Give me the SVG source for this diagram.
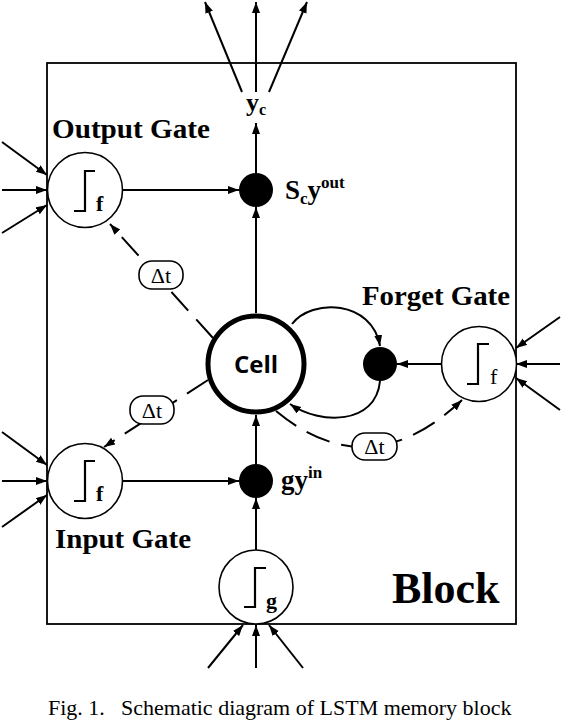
<svg xmlns="http://www.w3.org/2000/svg" width="562" height="720" viewBox="0 0 562 720">
<style>
.bg{fill:#fff}
.ln{stroke:#000;stroke-width:2;fill:none}
.dash{stroke:#000;stroke-width:2;fill:none;stroke-dasharray:25 12}
.gate{fill:#fff;stroke:#000;stroke-width:1.6}
.step{stroke:#000;stroke-width:2.2;fill:none}
.dot{fill:#000}
.lbl{font-family:"Liberation Serif","Times New Roman",serif;font-weight:bold;fill:#000}
.dtbox{fill:#fff;stroke:#000;stroke-width:1.6}
.dt{font-family:"Liberation Serif","Times New Roman",serif;font-size:22px;fill:#000;text-anchor:middle}
.cap{font-family:"Liberation Serif","Times New Roman",serif;font-size:22px;fill:#000}
</style>
<defs>
<marker id="ah" markerUnits="userSpaceOnUse" markerWidth="12" markerHeight="9" refX="11" refY="4" orient="auto">
<path d="M0,0 L11,4 L0,8 z" fill="#000"/>
</marker>
</defs>
<rect class="bg" x="0" y="0" width="562" height="720"/>

<g id="block">
<rect x="47" y="63" width="469" height="561" fill="none" stroke="#000" stroke-width="1.8"/>
<text class="lbl" x="392" y="603" font-size="44">Block</text>
</g>

<g id="connectors">
<line class="ln" x1="242" y1="92" x2="205" y2="2" marker-end="url(#ah)"/>
<line class="ln" x1="256" y1="92" x2="256" y2="2" marker-end="url(#ah)"/>
<line class="ln" x1="269" y1="92" x2="307" y2="2" marker-end="url(#ah)"/>
<line class="ln" x1="256" y1="173" x2="256" y2="123" marker-end="url(#ah)"/>
<line class="ln" x1="256" y1="313" x2="256" y2="207" marker-end="url(#ah)"/>
<line class="ln" x1="123" y1="190" x2="239" y2="190" marker-end="url(#ah)"/>
<line class="ln" x1="2" y1="142" x2="47" y2="175" marker-end="url(#ah)"/>
<line class="ln" x1="2" y1="190" x2="47" y2="190" marker-end="url(#ah)"/>
<line class="ln" x1="2" y1="233" x2="47" y2="205" marker-end="url(#ah)"/>
<line class="ln" x1="123" y1="481" x2="239" y2="481" marker-end="url(#ah)"/>
<line class="ln" x1="2" y1="432" x2="47" y2="465" marker-end="url(#ah)"/>
<line class="ln" x1="2" y1="481" x2="47" y2="481" marker-end="url(#ah)"/>
<line class="ln" x1="2" y1="527" x2="47" y2="495" marker-end="url(#ah)"/>
<line class="ln" x1="256" y1="464" x2="256" y2="415" marker-end="url(#ah)"/>
<line class="ln" x1="256" y1="550" x2="256" y2="498" marker-end="url(#ah)"/>
<line class="ln" x1="208" y1="668" x2="243" y2="625" marker-end="url(#ah)"/>
<line class="ln" x1="256" y1="668" x2="256" y2="625" marker-end="url(#ah)"/>
<line class="ln" x1="303" y1="668" x2="269" y2="625" marker-end="url(#ah)"/>
<line class="ln" x1="441" y1="364" x2="397" y2="364" marker-end="url(#ah)"/>
<line class="ln" x1="560" y1="317" x2="516" y2="348" marker-end="url(#ah)"/>
<line class="ln" x1="560" y1="364" x2="516" y2="364" marker-end="url(#ah)"/>
<line class="ln" x1="560" y1="410" x2="516" y2="378" marker-end="url(#ah)"/>
<path class="ln" d="M292,324 C312,298 372,300 380,346" marker-end="url(#ah)"/>
<path class="ln" d="M380,381 C376,425 320,425 290,404" marker-end="url(#ah)"/>
<path class="dash" d="M213,338 L110,224" marker-end="url(#ah)"/>
<path class="dash" d="M208,380 L104,447" marker-end="url(#ah)"/>
<path class="dash" d="M276,411 Q369,488 462,400" marker-end="url(#ah)"/>
<g id="delay-out">
<rect class="dtbox" x="139" y="261" width="44" height="28" rx="13"/>
<text class="dt" x="161" y="283">Δt</text>
</g>
<g id="delay-in">
<rect class="dtbox" x="130" y="396" width="44" height="28" rx="13"/>
<text class="dt" x="152" y="418">Δt</text>
</g>
<g id="delay-forget">
<rect class="dtbox" x="352" y="433" width="45" height="27" rx="13"/>
<text class="dt" x="374.5" y="454">Δt</text>
</g>
</g>

<g id="y-c">
<text class="lbl" x="246" y="111" font-size="26">y<tspan font-size="16" dy="4">c</tspan></text>
</g>

<g id="output-gate">
<circle class="gate" cx="85" cy="190" r="37.5"/>
<polyline class="step" points="74,211 85,211 85,171 95,171"/>
<text class="lbl" x="96" y="211" font-size="22">f</text>
<text class="lbl" x="52" y="138" font-size="27" textLength="158" lengthAdjust="spacingAndGlyphs">Output Gate</text>
</g>

<g id="output-product">
<circle class="dot" cx="256" cy="190" r="17"/>
<text class="lbl" x="285" y="199" font-size="27">S<tspan font-size="17" dy="5">c</tspan><tspan dy="-5">y</tspan><tspan font-size="17" dy="-11">out</tspan></text>
</g>

<g id="cell">
<circle cx="256" cy="364" r="48" fill="#fff" stroke="#000" stroke-width="5"/>
<text x="256" y="373" font-family="'Open Sans','Liberation Sans',sans-serif" font-weight="bold" font-size="24" text-anchor="middle">Cell</text>
</g>

<g id="forget-gate">
<circle class="gate" cx="479" cy="364" r="37.5"/>
<polyline class="step" points="467,384 478,384 478,344 489,344"/>
<text x="490" y="384" font-family="'Liberation Serif','Times New Roman',serif" font-size="22">f</text>
<text class="lbl" x="362" y="305" font-size="27" textLength="148" lengthAdjust="spacingAndGlyphs">Forget Gate</text>
</g>

<g id="forget-product">
<circle class="dot" cx="380" cy="364" r="17"/>
</g>

<g id="input-gate">
<circle class="gate" cx="85" cy="481" r="37.5"/>
<polyline class="step" points="74,501 85,501 85,461 95,461"/>
<text class="lbl" x="96" y="501" font-size="22">f</text>
<text class="lbl" x="55" y="548" font-size="27" textLength="136" lengthAdjust="spacingAndGlyphs">Input Gate</text>
</g>

<g id="input-product">
<circle class="dot" cx="256" cy="481" r="17"/>
<text class="lbl" x="281" y="489" font-size="27">gy<tspan font-size="17" dy="-11">in</tspan></text>
</g>

<g id="cell-input">
<circle class="gate" cx="256" cy="587" r="37"/>
<polyline class="step" points="244,607 255,607 255,568 266,568"/>
<text class="lbl" x="266" y="608" font-size="22">g</text>
</g>

<g id="caption">
<text class="cap" y="715"><tspan x="48">Fig. 1.</tspan><tspan x="121">Schematic diagram of LSTM memory block</tspan></text>
</g>
</svg>
